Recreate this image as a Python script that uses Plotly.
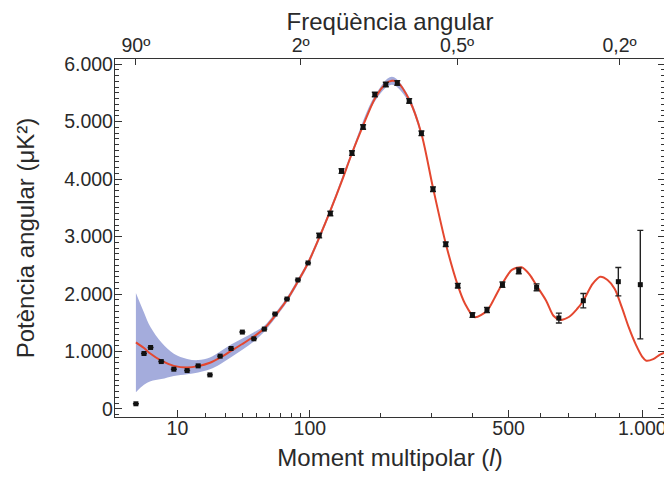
import numpy as np
import plotly.graph_objects as go

# measured band powers (multipole l, power in uK^2, 1-sigma error)
ell_data = [2, 3, 4, 6, 9, 13, 17, 22, 27, 33, 40, 48, 56, 65, 76, 87, 98,
            111, 125, 140, 155, 172, 191, 210, 231, 254, 279, 304, 333, 362,
            399, 438, 482, 531, 588, 664, 754, 895, 991]
power_data = [90, 965, 1070, 825, 692, 668, 750, 593, 919, 1052, 1338, 1221, 1390, 1652, 1913, 2245, 2541,
              3018, 3401, 4140, 4453, 4907, 5472, 5646, 5674, 5360, 4797, 3825, 2866, 2145,
              1634, 1722, 2163, 2402, 2116, 1582, 1884, 2215, 2163]
power_err = [0, 0, 0, 0, 0, 0, 0, 0, 0, 0, 0, 0, 0, 0, 0, 0, 0,
             40, 40, 40, 40, 40, 40, 40, 40, 40, 40, 40, 40, 40,
             40, 45, 47, 50, 60, 85, 125, 247, 944]

# best-fit model curve
ell_model = [2, 3, 4, 6, 9, 13, 17, 22, 27, 33, 40, 48, 56, 65, 76, 87, 98,
             111, 125, 140, 155, 172, 191, 210, 221, 231, 254, 279, 304, 333, 362,
             380, 405, 438, 460, 481, 510, 540, 565, 588, 620, 645, 668, 700, 730, 754,
             790, 820, 850, 880, 910, 940, 970, 1000, 1018, 1050, 1080, 1106]
power_model = [1160, 1060, 960, 840, 750, 720, 745, 805, 895, 1010, 1130, 1260, 1400, 1620, 1900, 2220, 2540,
               2980, 3450, 3950, 4450, 4930, 5400, 5660, 5710, 5690, 5380, 4790, 3850, 2880, 2150,
               1830, 1595, 1709, 1940, 2175, 2420, 2465, 2340, 2145, 1884, 1622, 1550, 1600, 1739, 1884,
               2175, 2300, 2244, 2088, 1767, 1418, 1128, 907, 840, 866, 942, 982]

# cosmic variance band around the model
ell_band = [2, 3, 4, 6, 9, 13, 17, 22, 27, 33, 40, 48, 56, 65, 76, 87, 98, 125, 155, 191, 221, 254, 279]
band_hi = [2020, 1680, 1420, 1160, 960, 870, 850, 895, 1000, 1120, 1225, 1335, 1450, 1665, 1945, 2265, 2585,
           3495, 4495, 5450, 5780, 5430, 4820]
band_lo = [290, 420, 480, 520, 575, 605, 635, 690, 780, 900, 1030, 1175, 1345, 1575, 1855, 2175, 2495,
           3405, 4405, 5350, 5640, 5330, 4760]

# axis ticks
ell_major = [10, 100, 500, 1000]
major_text = ["10", "100", "500", "1.000"]
ell_minor = [20, 30, 40, 50, 60, 70, 80, 90, 200, 300, 400, 600, 700, 800, 900]
ell_top = [2, 90, 360, 900]
top_text = ["90º", "2º", "0,5º", "0,2º"]
y_ticks = [0, 1000, 2000, 3000, 4000, 5000, 6000]
y_text = ["0", "1.000", "2.000", "3.000", "4.000", "5.000", "6.000"]


def to_axis(ell):
    # the original plot uses a l^0.4 stretch for the multipole axis
    return np.asarray(ell, dtype=float) ** 0.4


FONT = "Arial, Liberation Sans, sans-serif"
INK = "#2a2a2a"
xrange_ = [0.72, 16.5]

fig = go.Figure()
fig.add_trace(go.Scatter(
    x=np.concatenate([to_axis(ell_band), to_axis(ell_band)[::-1]]),
    y=np.concatenate([band_hi, band_lo[::-1]]),
    fill="toself", fillcolor="#a4acdc", line={"width": 0, "shape": "spline"},
    mode="lines", hoverinfo="skip", showlegend=False,
))
fig.add_trace(go.Scatter(
    x=to_axis(ell_model), y=power_model, mode="lines",
    line={"color": "#e4472f", "width": 2, "shape": "spline", "smoothing": 0.8},
    showlegend=False,
))
fig.add_trace(go.Scatter(
    x=to_axis(ell_data), y=power_data, mode="markers",
    marker={"symbol": "square", "size": 5, "color": "#111"},
    error_y={"type": "data", "array": power_err, "color": "#222", "thickness": 1.4, "width": 3},
    showlegend=False,
))
# invisible trace to activate the top axis
fig.add_trace(go.Scatter(x=xrange_, y=[None, None], xaxis="x2", showlegend=False, hoverinfo="skip"))

# the page body adds an 8px offset, so the canvas is 8px smaller than the window
fig.update_layout(
    width=664, height=470,
    margin={"l": 107, "r": 7, "t": 51, "b": 61},
    paper_bgcolor="white", plot_bgcolor="white",
    font={"family": FONT, "color": INK, "size": 19.5},
    xaxis={
        "range": xrange_, "showgrid": False, "zeroline": False, "automargin": False,
        "showline": True, "linecolor": "#333", "linewidth": 1.3, "mirror": True,
        "tickmode": "array", "tickvals": to_axis(ell_major), "ticktext": major_text,
        "ticks": "inside", "ticklen": 7, "tickwidth": 1.3, "tickcolor": "#333",
        "ticklabelstandoff": -7,
        "minor": {"tickmode": "array", "tickvals": to_axis(ell_minor), "ticks": "inside",
                  "ticklen": 4, "tickwidth": 1.2, "tickcolor": "#333"},
        "title": {"text": "Moment multipolar (<i>l</i>)", "font": {"size": 24}, "standoff": 11},
    },
    xaxis2={
        "range": xrange_, "overlaying": "x", "side": "top", "showgrid": False, "zeroline": False,
        "showline": False, "automargin": False,
        "tickmode": "array", "tickvals": to_axis(ell_top), "ticktext": top_text,
        "ticks": "inside", "ticklen": 6, "tickwidth": 1.3, "tickcolor": "#333",
        "ticklabelstandoff": 2,
        "title": {"text": "Freqüència angular", "font": {"size": 24}, "standoff": 14},
    },
    yaxis={
        "range": [-140, 6090], "showgrid": False, "zeroline": False, "automargin": False,
        "showline": True, "linecolor": "#333", "linewidth": 1.3, "mirror": "ticks",
        "tickmode": "array", "tickvals": y_ticks, "ticktext": y_text,
        "ticks": "inside", "ticklen": 7, "tickwidth": 1.3, "tickcolor": "#333",
        "ticklabelstandoff": -3,
        "minor": {"dtick": 100, "tick0": 0, "ticks": "inside", "ticklen": 4,
                  "tickwidth": 1, "tickcolor": "#333"},
        "title": {"text": "Potència angular (μK²)", "font": {"size": 24}, "standoff": 22},
    },
)

fig.write_html("out.html")
